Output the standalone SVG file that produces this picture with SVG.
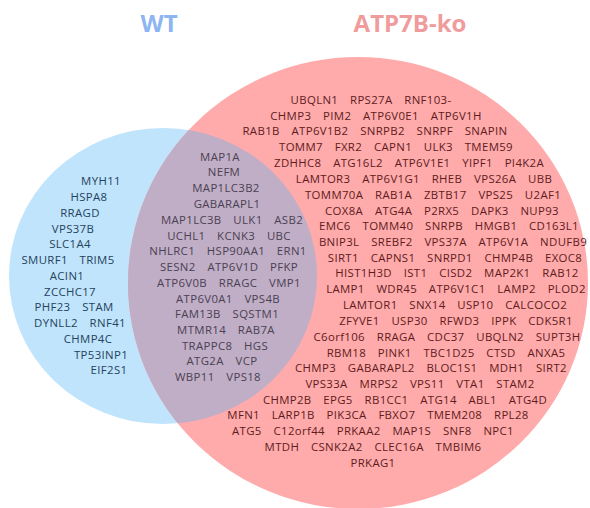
<svg xmlns="http://www.w3.org/2000/svg" width="590" height="508" viewBox="0 0 590 508">
<style>
text{font-family:"Open Sans","Noto Sans","Liberation Sans",sans-serif;font-size:11.4px;letter-spacing:0.35px;word-spacing:8.5px;text-anchor:middle}
.t{font-weight:bold;font-size:24px;letter-spacing:0;word-spacing:0}
.b text{fill:#24435c}
.o text{fill:#4b4152}
.p text{fill:#5e1c1c}
</style>
<defs>
<clipPath id="clipKo"><ellipse cx="358" cy="283" rx="230" ry="226"/></clipPath>
</defs>
<rect width="590" height="508" fill="#ffffff"/>
<g id="set-wt-shape"><ellipse cx="163" cy="276" rx="154" ry="148" fill="#c0e4fc"/></g>
<g id="set-ko-shape"><ellipse cx="358" cy="283" rx="230" ry="226" fill="#ffaaab"/></g>
<g id="overlap-shape" clip-path="url(#clipKo)"><ellipse cx="163" cy="276" rx="154" ry="148" fill="#c0aec6"/></g>
<g id="titles">
<text class="t" x="159" y="32" fill="#8db5f2">WT</text>
<text class="t" x="410" y="32" fill="#f09c9c">ATP7B-ko</text>
</g>
<g id="wt-only" class="b">
<text x="101" y="185">MYH11</text>
<text x="89" y="201">HSPA8</text>
<text x="80" y="217">RRAGD</text>
<text x="73" y="233">VPS37B</text>
<text x="70" y="248">SLC1A4</text>
<text x="68" y="264">SMURF1 TRIM5</text>
<text x="67" y="280">ACIN1</text>
<text x="70" y="296">ZCCHC17</text>
<text x="74" y="311">PHF23 STAM</text>
<text x="80" y="327">DYNLL2 RNF41</text>
<text x="88" y="343">CHMP4C</text>
<text x="101" y="359">TP53INP1</text>
<text x="109" y="374">EIF2S1</text>
</g>
<g id="shared" class="o">
<text x="220" y="161">MAP1A</text>
<text x="224" y="176">NEFM</text>
<text x="226" y="192">MAP1LC3B2</text>
<text x="227" y="208">GABARAPL1</text>
<text x="232" y="224">MAP1LC3B ULK1 ASB2</text>
<text x="229" y="240">UCHL1 KCNK3 UBC</text>
<text x="228" y="255">NHLRC1 HSP90AA1 ERN1</text>
<text x="229" y="271">SESN2 ATP6V1D PFKP</text>
<text x="229" y="287">ATP6V0B RRAGC VMP1</text>
<text x="228" y="303">ATP6V0A1 VPS4B</text>
<text x="227" y="318">FAM13B SQSTM1</text>
<text x="226" y="334">MTMR14 RAB7A</text>
<text x="225" y="350">TRAPPC8 HGS</text>
<text x="222" y="365">ATG2A VCP</text>
<text x="218" y="381">WBP11 VPS18</text>
</g>
<g id="ko-only" class="p">
<text x="371" y="104">UBQLN1 RPS27A RNF103-</text>
<text x="376" y="120">CHMP3 PIM2 ATP6V0E1 ATP6V1H</text>
<text x="375" y="135">RAB1B ATP6V1B2 SNRPB2 SNRPF SNAPIN</text>
<text x="396" y="151">TOMM7 FXR2 CAPN1 ULK3 TMEM59</text>
<text x="409" y="167">ZDHHC8 ATG16L2 ATP6V1E1 YIPF1 PI4K2A</text>
<text x="424" y="183">LAMTOR3 ATP6V1G1 RHEB VPS26A UBB</text>
<text x="433" y="199">TOMM70A RAB1A ZBTB17 VPS25 U2AF1</text>
<text x="442" y="215">COX8A ATG4A P2RX5 DAPK3 NUP93</text>
<text x="449" y="230">EMC6 TOMM40 SNRPB HMGB1 CD163L1</text>
<text x="453" y="246">BNIP3L SREBF2 VPS37A ATP6V1A NDUFB9</text>
<text x="455" y="262">SIRT1 CAPNS1 SNRPD1 CHMP4B EXOC8</text>
<text x="457" y="277">HIST1H3D IST1 CISD2 MAP2K1 RAB12</text>
<text x="456" y="293">LAMP1 WDR45 ATP6V1C1 LAMP2 PLOD2</text>
<text x="455" y="309">LAMTOR1 SNX14 USP10 CALCOCO2</text>
<text x="456" y="325">ZFYVE1 USP30 RFWD3 IPPK CDK5R1</text>
<text x="447" y="341">C6orf106 RRAGA CDC37 UBQLN2 SUPT3H</text>
<text x="446" y="357">RBM18 PINK1 TBC1D25 CTSD ANXA5</text>
<text x="431" y="372">CHMP3 GABARAPL2 BLOC1S1 MDH1 SIRT2</text>
<text x="420" y="388">VPS33A MRPS2 VPS11 VTA1 STAM2</text>
<text x="405" y="404">CHMP2B EPG5 RB1CC1 ATG14 ABL1 ATG4D</text>
<text x="378" y="419">MFN1 LARP1B PIK3CA FBXO7 TMEM208 RPL28</text>
<text x="373" y="435">ATG5 C12orf44 PRKAA2 MAP1S SNF8 NPC1</text>
<text x="373" y="451">MTDH CSNK2A2 CLEC16A TMBIM6</text>
<text x="373" y="467">PRKAG1</text>
</g>
</svg>
